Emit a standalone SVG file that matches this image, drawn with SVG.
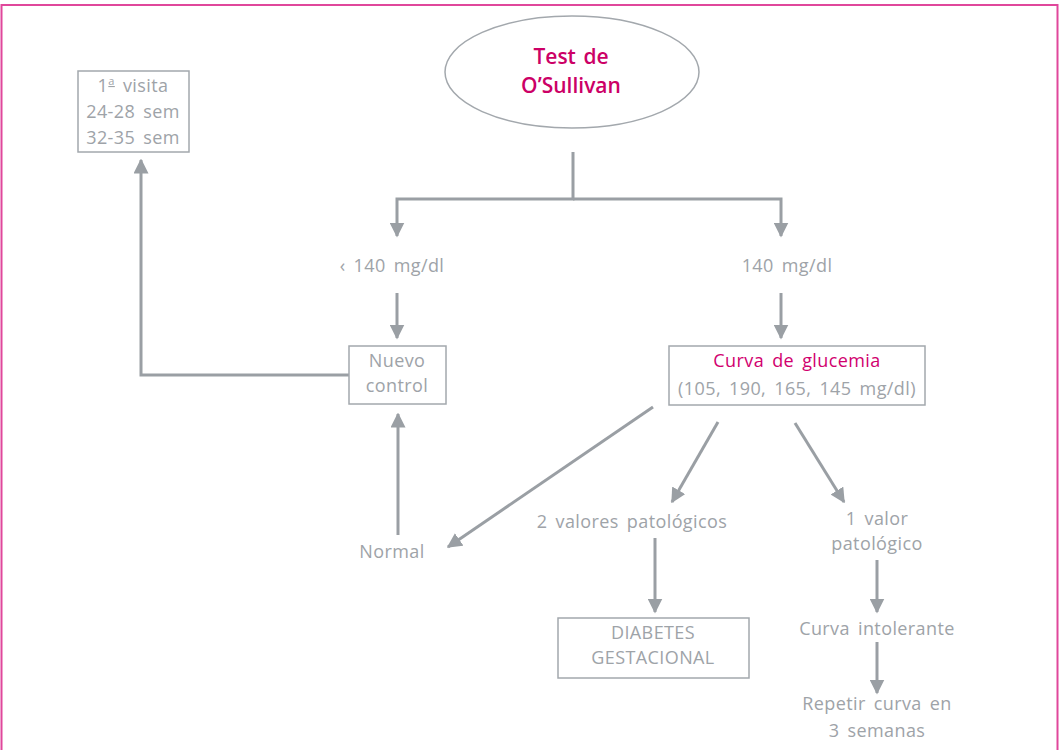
<svg xmlns="http://www.w3.org/2000/svg" width="1064" height="750" viewBox="0 0 1064 750">
  <style>
    .frame { fill: none; stroke: #e0479b; stroke-width: 2; }
    .box { fill: #ffffff; stroke: #a3a8ad; stroke-width: 1.5; }
    .line { fill: none; stroke: #9a9fa4; stroke-width: 3; }
    .txt { font-family: "Open Sans", "Liberation Sans", sans-serif; font-size: 18px; letter-spacing: 0.4px; word-spacing: 3px; fill: #9ea3a8; text-anchor: middle; }
    .pink { fill: #d1006e; }
    .title { font-family: "Open Sans", "Liberation Sans", sans-serif; font-size: 21px; font-weight: 600; word-spacing: 2px; fill: #cc0066; text-anchor: middle; }
  </style>
  <defs>
    <marker id="arrow" viewBox="0 0 10 10" refX="9" refY="5" markerWidth="5" markerHeight="5" markerUnits="strokeWidth" orient="auto">
      <path d="M0,0 L10,5 L0,10 Z" fill="#9a9fa4"/>
    </marker>
  </defs>

  <rect class="frame" x="1.5" y="5" width="1056" height="760"/>

  <!-- connectors -->
  <g id="connectors">
    <polyline class="line" points="573,152 573,199 397,199 397,236" marker-end="url(#arrow)"/>
    <polyline class="line" points="573,199 781,199 781,236" marker-end="url(#arrow)"/>
    <line class="line" x1="397" y1="293" x2="397" y2="338" marker-end="url(#arrow)"/>
    <line class="line" x1="781" y1="293" x2="781" y2="338" marker-end="url(#arrow)"/>
    <polyline class="line" points="349,375 141,375 141,160" marker-end="url(#arrow)"/>
    <line class="line" x1="398" y1="535" x2="398" y2="414" marker-end="url(#arrow)"/>
    <line class="line" x1="653" y1="407" x2="448" y2="547" marker-end="url(#arrow)"/>
    <line class="line" x1="718" y1="422" x2="672" y2="502" marker-end="url(#arrow)"/>
    <line class="line" x1="795" y1="423" x2="844" y2="502" marker-end="url(#arrow)"/>
    <line class="line" x1="655" y1="538" x2="655" y2="612" marker-end="url(#arrow)"/>
    <line class="line" x1="877" y1="560" x2="877" y2="612" marker-end="url(#arrow)"/>
    <line class="line" x1="877" y1="642" x2="877" y2="693" marker-end="url(#arrow)"/>
  </g>

  <g id="test-osullivan">
    <ellipse class="box" cx="572" cy="72" rx="127" ry="56"/>
    <text class="title" x="571" y="64">Test de</text>
    <text class="title" x="571" y="93">O’Sullivan</text>
  </g>

  <g id="visitas">
    <rect class="box" x="78" y="71" width="111" height="81"/>
    <text class="txt" x="133" y="92">1<tspan font-size="11" dy="-7" text-decoration="underline">a</tspan><tspan dy="7"> visita</tspan></text>
    <text class="txt" x="133" y="118">24-28 sem</text>
    <text class="txt" x="133" y="144">32-35 sem</text>
  </g>

  <g id="menor-140">
    <text class="txt" x="392" y="272">‹ 140 mg/dl</text>
  </g>

  <g id="mayor-140">
    <text class="txt" x="787" y="272">140 mg/dl</text>
  </g>

  <g id="nuevo-control">
    <rect class="box" x="349" y="346" width="97" height="58"/>
    <text class="txt" x="397" y="367">Nuevo</text>
    <text class="txt" x="397" y="392">control</text>
  </g>

  <g id="curva-glucemia">
    <rect class="box" x="669" y="346" width="256" height="59"/>
    <text class="txt pink" x="797" y="367">Curva de glucemia</text>
    <text class="txt" x="797" y="395">(105, 190, 165, 145 mg/dl)</text>
  </g>

  <g id="normal">
    <text class="txt" x="392" y="558">Normal</text>
  </g>

  <g id="dos-valores">
    <text class="txt" x="632" y="528">2 valores patológicos</text>
  </g>

  <g id="diabetes-gestacional">
    <rect class="box" x="558" y="618" width="191" height="60"/>
    <text class="txt" x="653" y="639">DIABETES</text>
    <text class="txt" x="653" y="664">GESTACIONAL</text>
  </g>

  <g id="un-valor">
    <text class="txt" x="877" y="525">1 valor</text>
    <text class="txt" x="877" y="550">patológico</text>
  </g>

  <g id="curva-intolerante">
    <text class="txt" x="877" y="635">Curva intolerante</text>
  </g>

  <g id="repetir-curva">
    <text class="txt" x="877" y="710">Repetir curva en</text>
    <text class="txt" x="877" y="737">3 semanas</text>
  </g>
</svg>
